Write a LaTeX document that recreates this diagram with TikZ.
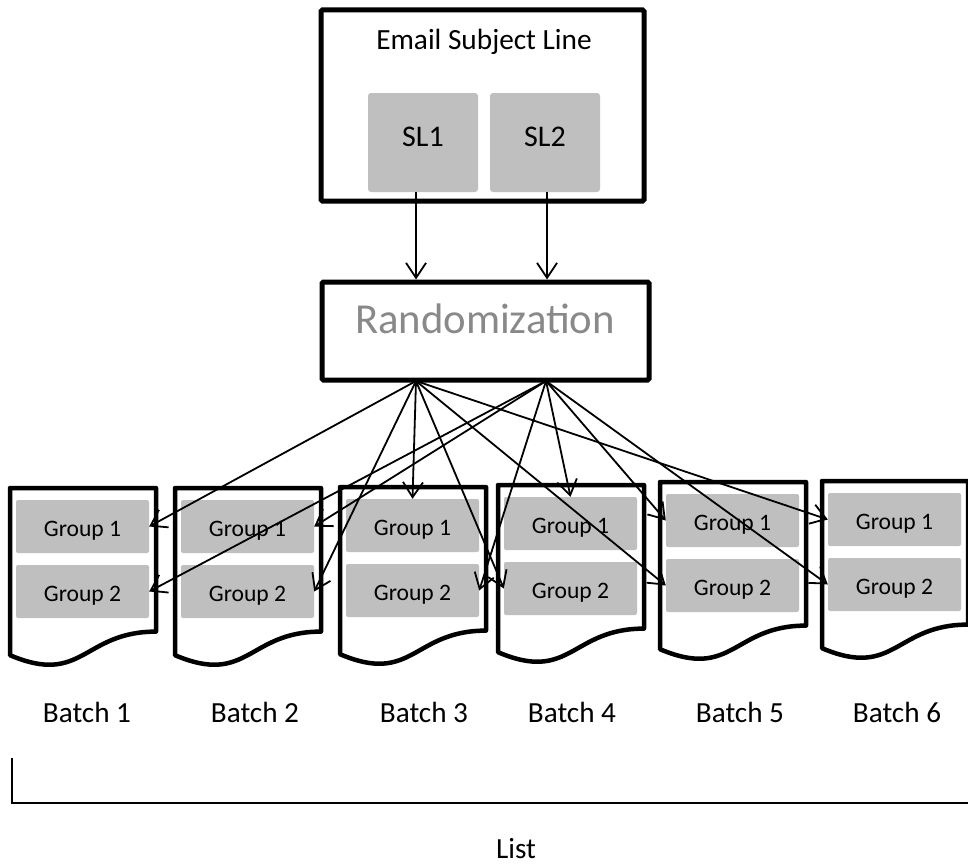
\documentclass[tikz,border=0pt]{standalone}
\usepackage{fontspec}
\setmainfont{Carlito}
\usetikzlibrary{arrows.meta}
\definecolor{boxgray}{RGB}{191,191,191}
\definecolor{randgray}{RGB}{137,137,137}
\begin{document}
\begin{tikzpicture}[x=1pt,y=-1pt,
  frame/.style={draw, line width=5pt, rounded corners=1.5pt, inner sep=0pt},
  lbl/.style={font=\fontsize{29.3}{31}\selectfont, inner sep=0pt},
  batchlbl/.style={font=\fontsize{29.2}{31}\selectfont, inner sep=0pt},
  randtxt/.style={font=\fontsize{42.7}{44}\selectfont, text=randgray, inner sep=0pt},
  slbox/.style={fill=boxgray, rounded corners=3pt, minimum width=110pt, minimum height=99pt,
    inner sep=0pt, font=\fontsize{30}{32}\selectfont, text height=7pt, text depth=0pt},
  grp/.style={fill=boxgray, rounded corners=2pt, minimum width=133pt, minimum height=53pt,
    inner sep=0pt, font=\fontsize{23.6}{25}\selectfont, text height=20pt, text depth=0pt},
  doc/.style={draw, fill=white, line width=4.5pt, line join=round},
  arr/.style={line width=1.8pt, -{Straight Barb[length=15pt,width=20pt]}}
]
\useasboundingbox (0,0) rectangle (968,867);
\fill[white] (0,0) rectangle (968,867);

% top box
\node[frame, minimum width=323pt, minimum height=191pt] (esl) at (482.5,105.5) {};
\node[lbl, anchor=base] (esltxt) at (484,50) {Email Subject Line};
\node[slbox] (sl1) at (423,142.5) {SL1};
\node[slbox] (sl2) at (545,142.5) {SL2};

% randomization
\node[frame, minimum width=327pt, minimum height=98pt] (rand) at (485.5,331) {};
\node[randtxt, anchor=base] (randlabel) at (485,333) {Randomization};

\coordinate (s1) at (416,192);
\coordinate (s2) at (547,192);
\draw[arr] (s1) -- (s1 |- rand.north);
\draw[arr] (s2) -- (s2 |- rand.north);

% batches
\foreach \i/\l/\t/\lx in {1/10/488/87, 2/175/488/255, 3/340/487/424, 4/498/485/572, 5/660/482/740, 6/822/481/897} {
  \draw[doc] (\l,\t) -- (\l+146,\t) -- (\l+146,\t+143.6)
     .. controls (\l+73,\t+143.6) and (\l+73,\t+198.2) .. (\l,\t+167.2) -- cycle;
  \node[grp] (b\i-g1) at (\l+72.5,\t+38.5) {Group 1};
  \node[grp] (b\i-g2) at (\l+72.5,\t+103.5) {Group 2};
  \node[batchlbl, anchor=base] (batch\i) at (\lx,722) {Batch \i};
}

% fan-out arrows
\coordinate (ra) at (416,381);
\coordinate (rb) at (546,381);
\foreach \tg in {b1-g1.east, b2-g2.east, b3-g1.north, b4-g2.west, b5-g2.west, b6-g1.west}
  \draw[arr] (ra) -- (\tg);
\foreach \tg in {b1-g2.east, b2-g1.east, b3-g2.east, b4-g1.north, b5-g1.west, b6-g2.west}
  \draw[arr] (rb) -- (\tg);

% list bracket
\coordinate (brtop) at (12,758);
\coordinate (brcorner) at (12,803);
\coordinate (brend) at (968,803);
\draw[line width=2.2pt] (brtop) -- (brcorner) -- (brend);
\node[batchlbl, anchor=base] (list) at (516,858) {List};
\end{tikzpicture}
\end{document}
